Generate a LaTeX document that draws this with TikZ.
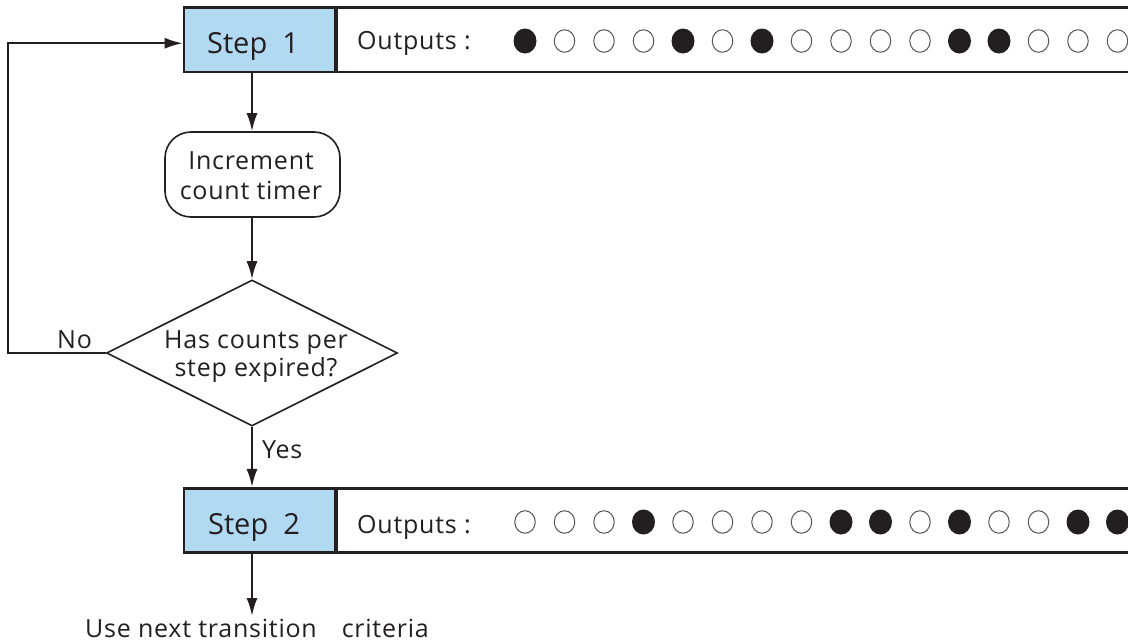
\documentclass[tikz,border=0pt]{standalone}
\usepackage{fontspec}
\setmainfont{Open Sans}
\newfontfamily\spaced[LetterSpace=3]{Open Sans}
\usetikzlibrary{arrows.meta,shapes.geometric}
\definecolor{ink}{HTML}{231F20}
\definecolor{stepblue}{HTML}{B2D9F2}
\definecolor{ringgrey}{HTML}{555555}
\tikzset{
  stepbox/.style={draw=ink, line width=2.6pt, fill=stepblue, minimum width=151pt, minimum height=64.5pt, inner sep=0pt, font=\fontsize{29}{32}\selectfont, text=ink},
  outbox/.style={draw=ink, line width=2.6pt, fill=white, minimum width=820pt, minimum height=64.5pt, inner sep=0pt},
  lbl/.style={inner sep=0pt, text=ink, font=\spaced\fontsize{25}{28}\selectfont},
  procbox/.style={draw=ink, line width=1.6pt, rounded corners=26pt, minimum width=175pt, minimum height=85pt, inner sep=0pt},
  decision/.style={draw=ink, line width=1.6pt, diamond, minimum width=291pt, minimum height=146pt, inner sep=0pt},
  arr/.style={draw=ink, line width=2pt, -{Latex[length=18pt,width=11pt]}},
  onlamp/.style={ellipse, fill=ink, draw=none, minimum width=23pt, minimum height=25pt, inner sep=0pt},
  offlamp/.style={ellipse, draw=ringgrey, line width=1pt, fill=white, minimum width=20.5pt, minimum height=22.5pt, inner sep=0pt}
}
\begin{document}
\begin{tikzpicture}[x=1pt,y=-1pt]
\useasboundingbox (0,0) rectangle (1128,643);
\clip (0,0) rectangle (1128,643);

% Step 1 row
\node[outbox, anchor=west] (o1) at (335,39.75) {};
\node[stepbox] (s1) at (259.5,39.75) {};
\node[inner sep=0pt, text=ink, font=\fontsize{29}{32}\selectfont, anchor=base] (s1t) at (253,53) {Step~~1};
\node[lbl, anchor=base west] (t1) at (357,49) {Outputs :};
\foreach \v [count=\i from 0] in {1,0,0,0,1,0,1,0,0,0,0,1,1,0,0,0}{
  \ifnum\v=1
    \node[onlamp] (a\i) at (525+39.5*\i,41) {};
  \else
    \node[offlamp] (a\i) at (525+39.5*\i,41) {};
  \fi
}

% Step 2 row
\node[outbox, anchor=west] (o2) at (335,520.5) {};
\node[stepbox] (s2) at (259.5,520.5) {};
\node[inner sep=0pt, text=ink, font=\fontsize{29}{32}\selectfont, anchor=base] (s2t) at (254,534) {Step~~2};
\node[lbl, anchor=base west] (t2) at (357,533) {Outputs :};
\foreach \v [count=\i from 0] in {0,0,0,1,0,0,0,0,1,1,0,1,0,0,1,1}{
  \ifnum\v=1
    \node[onlamp] (b\i) at (525+39.5*\i,522) {};
  \else
    \node[offlamp] (b\i) at (525+39.5*\i,522) {};
  \fi
}

% process and decision
\node[procbox] (inc) at (252.5,174.5) {};
\node[lbl, align=center, font=\spaced\fontsize{25}{30}\selectfont] (inct) at (251,176) {Increment\\count timer};
\node[decision] (d) at (252,353) {};
\node[lbl, align=center, font=\spaced\fontsize{25}{28}\selectfont] (dt) at (256,357) {Has counts per\\step expired?};

\node[lbl, anchor=base west] (no) at (57,348) {No};
\node[lbl, anchor=base west] (yes) at (262,458) {Yes};

\coordinate (fb) at (8,353);
\coordinate (endp) at (252,616);
\node[lbl, anchor=base] (next) at (257,637) {Use next transition\quad criteria};

% connectors
\draw[arr] (s1.south -| d.north) -- (inc.north -| d.north);
\draw[arr] (inc.south -| d.north) -- (d.north);
\draw[arr] (d.west) -- (fb) |- ([yshift=-3.5pt]s1.west);
\draw[arr] (d.south) -- (s2.north -| d.south);
\draw[arr] (s2.south -| d.south) -- (endp);
\end{tikzpicture}
\end{document}
